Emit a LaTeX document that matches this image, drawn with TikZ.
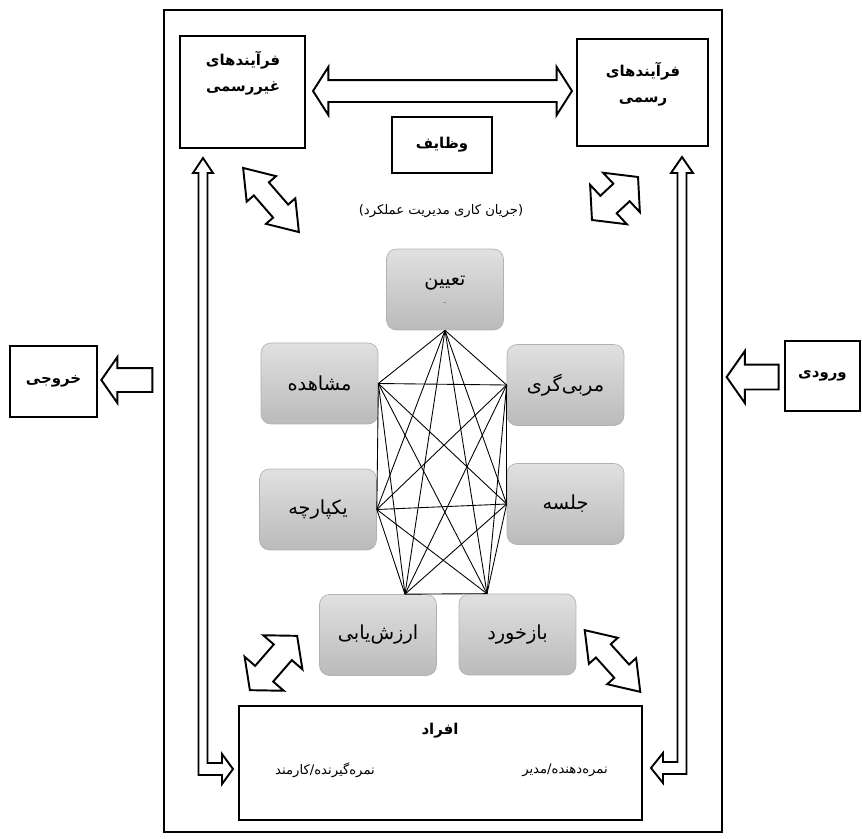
\documentclass[tikz,border=0pt]{standalone}
\usepackage{fontspec}
\newfontfamily\arabicfont[Script=Arabic]{DejaVu Sans}
\TeXXeTstate=1
\usetikzlibrary{shapes.arrows,positioning}
\newcommand{\fa}[1]{\beginR #1\endR}
\tikzset{
	stage/.style={rectangle, rounded corners=0.2cm, draw=black!30, top color=black!12, bottom color=black!27, minimum width=2.34cm, minimum height=1.62cm, align=center, font=\arabicfont\fontsize{11}{13}\selectfont},
	blockbox/.style={rectangle, draw, line width=1.1pt, fill=white},
	boxtext/.style={align=center, inner sep=0pt, font=\arabicfont\bfseries\fontsize{8.5}{15}\selectfont},
	plaintext/.style={inner sep=0pt, font=\arabicfont\fontsize{7.5}{9}\selectfont},
	hollow/.style={draw, line width=1.1pt, fill=white, inner xsep=0pt},
	edge/.style={line width=0.5pt},
}
\begin{document}
\begin{tikzpicture}[x=0.02cm, y=-0.02cm]
		\useasboundingbox (0,0) rectangle (863,839);
		%Outer frame
		\draw[line width=1.1pt] (164,10) rectangle (722,832);
		%Boxes around the workflow
		\node[blockbox, minimum width=2.5cm, minimum height=2.24cm] (informal) at (242.5,92) {};
		\node[boxtext] (informaltext) at (243,73) {\fa{فرآیندهای}\\\fa{غیررسمی}};
		\node[blockbox, minimum width=2.62cm, minimum height=2.14cm] (formal) at (642.5,92.5) {};
		\node[boxtext] (formaltext) at (643,84) {\fa{فرآیندهای}\\\fa{رسمی}};
		\node[blockbox, boxtext, minimum width=2cm, minimum height=1.12cm] (tasks) at (442,145) {\fa{وظایف}};
		\node[plaintext] (flow) at (441,211) {\fa{(جریان کاری مدیریت عملکرد)}};
		\node[blockbox, minimum width=8.06cm, minimum height=2.28cm] (people) at (440.5,763) {};
		\node[boxtext] (peopletext) at (440,731) {\fa{افراد}};
		\node[plaintext] (employee) at (325,770) {\fa{نمره‌گیرنده/کارمند}};
		\node[plaintext] (manager) at (565,770) {\fa{نمره‌دهنده/مدیر}};
		%Output and input
		\node[blockbox, boxtext, minimum width=1.74cm, minimum height=1.42cm] (output) at (53.5,381.5) {\fa{خروجی}};
		\node[blockbox, boxtext, minimum width=1.5cm, minimum height=1.4cm] (input) at (822.5,376) {\fa{ورودی}};
		\node[hollow, single arrow, rotate=180, inner ysep=0.22cm, minimum height=1.02cm, single arrow head extend=0.22cm, single arrow tip angle=110] (outarrow) at (131,380) {};
		\node[hollow, single arrow, rotate=180, inner ysep=0.23cm, minimum height=1.04cm, single arrow head extend=0.27cm, single arrow tip angle=110] (inarrow) at (757,377) {};
		%Double arrows
		\node[hollow, double arrow, inner ysep=0.2cm, minimum height=5.18cm, double arrow head extend=0.26cm, double arrow tip angle=115] (link) at (442.5,91) {};
		\node[hollow, double arrow, rotate=-49, inner ysep=0.18cm, minimum height=1.7cm, double arrow head extend=0.19cm, double arrow tip angle=70] (tlarrow) at (271,200) {};
		\node[hollow, double arrow, rotate=43, inner ysep=0.22cm, minimum height=1.26cm, double arrow head extend=0.3cm, double arrow tip angle=100] (trarrow) at (615,198.5) {};
		\node[hollow, double arrow, rotate=49, inner ysep=0.22cm, minimum height=1.44cm, double arrow head extend=0.28cm, double arrow tip angle=100] (blarrow) at (273.5,663) {};
		\node[hollow, double arrow, rotate=-48, inner ysep=0.18cm, minimum height=1.66cm, double arrow head extend=0.19cm, double arrow tip angle=70] (brarrow) at (612.5,661) {};
		%Bent arrows down the sides
		\draw[line width=1.1pt, fill=white] (203,158) -- (213,173) -- (207.5,173) -- (207.5,763) -- (222,763) -- (222,754) -- (233,769) -- (222,784) -- (222,775) -- (198.5,775) -- (198.5,173) -- (193,173) -- cycle;
		\draw[line width=1.1pt, fill=white] (682,157) -- (693,173) -- (686.5,173) -- (686.5,774) -- (663,774) -- (663,783) -- (651,768) -- (663,753) -- (663,762) -- (677.5,762) -- (677.5,173) -- (671,173) -- cycle;
		%Workflow stages
		\node[stage] (assign) at (445,289.5) {\fa{تعیین}\\[-3pt]{\fontsize{4}{4}\selectfont .}};
		\node[stage] (observe) at (319.5,383.5) {\fa{مشاهده}};
		\node[stage] (coach) at (565.5,385) {\fa{مربی‌گری}};
		\node[stage] (integrate) at (318,509.5) {\fa{یکپارچه}};
		\node[stage] (meeting) at (565.5,504) {\fa{جلسه}};
		\node[stage] (appraise) at (378,635) {\fa{ارزش‌یابی}};
		\node[stage] (feedback) at (517.5,634.5) {\fa{بازخورد}};
		\coordinate (pT) at (assign.south);
		\coordinate (pM) at (observe.east);
		\coordinate (pC) at (coach.west);
		\coordinate (pY) at (integrate.east);
		\coordinate (pJ) at (meeting.west);
		\coordinate (pA) at ([xshift=0.54cm]appraise.north);
		\coordinate (pB) at ([xshift=-0.61cm]feedback.north);
		%Every stage linked to every other
		\foreach \p [count=\i] in {pT,pM,pC,pY,pJ,pA,pB}
		\foreach \q [count=\j] in {pT,pM,pC,pY,pJ,pA,pB}
		{\ifnum\j>\i \draw[edge] (\p) -- (\q); \fi}
		\end{tikzpicture}
\end{document}
